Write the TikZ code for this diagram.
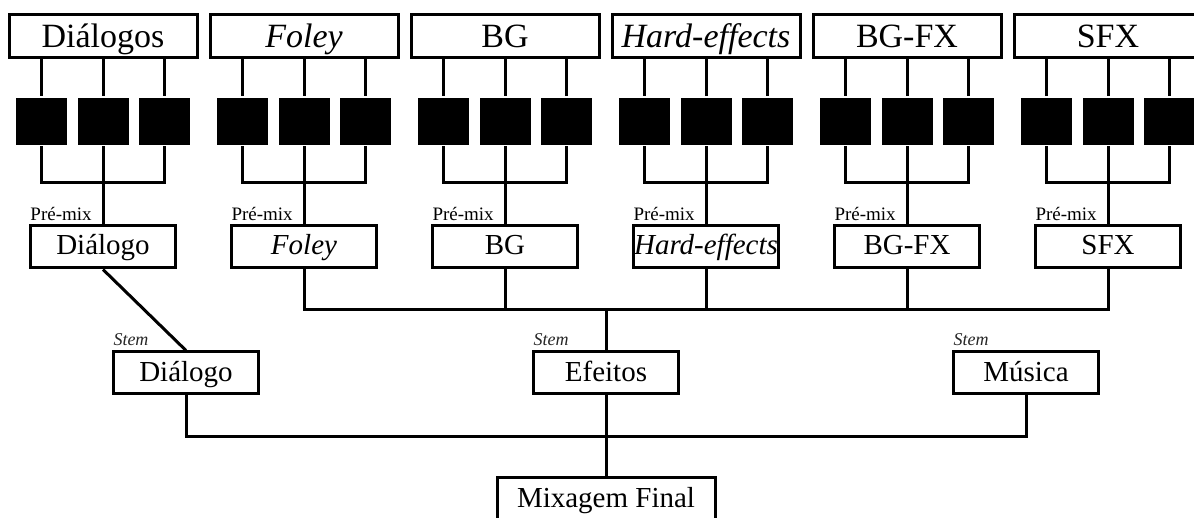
\documentclass[tikz,border=0pt]{standalone}
\usepackage{fontspec}
\setmainfont{Liberation Serif}
\begin{document}
\begin{tikzpicture}[x=1pt,y=-1pt,line width=3pt,line join=miter,
  topbox/.style={draw,line width=3pt,fill=white,minimum width=188pt,minimum height=43pt,inner sep=0pt,text height=24pt,text depth=1pt,font=\fontsize{34}{36}\selectfont},
  sqbox/.style={fill=black,draw=none,minimum width=51pt,minimum height=47pt,inner sep=0pt},
  prebox/.style={draw,line width=3pt,fill=white,minimum width=145pt,minimum height=42pt,inner sep=0pt,text height=18pt,text depth=2pt,font=\fontsize{29}{31}\selectfont},
  stembox/.style={draw,line width=3pt,fill=white,minimum width=145pt,minimum height=42pt,inner sep=0pt,text height=19pt,text depth=1pt,font=\fontsize{29}{31}\selectfont},
  premixlbl/.style={inner sep=0pt,anchor=base west,font=\fontsize{19}{21}\selectfont},
  stemlbl/.style={inner sep=0pt,anchor=base west,font=\fontsize{18}{20}\selectfont\itshape,text=black!85},
  conn/.style={draw,line width=3pt}]
\useasboundingbox (0,0) rectangle (1194,518);
\clip (0,0) rectangle (1194,518);
\foreach \i/\c/\txt/\ptxt in {0/103/Diálogos/Diálogo,1/304/\textit{Foley}/\textit{Foley},2/505/BG/BG,3/706/\textit{Hard-effects}/\textit{Hard-effects},4/907/BG-FX/BG-FX,5/1108/SFX/SFX}{
  \node[topbox] (top\i) at (\c,36.5) {\txt};
  \node[sqbox] (sq\i-1) at (\c-61.5,121.5) {};
  \node[sqbox] (sq\i-2) at (\c,121.5) {};
  \node[sqbox] (sq\i-3) at (\c+61.5,121.5) {};
  \coordinate (bus\i) at (\c,183);
  \node[prebox] (pre\i) at (\c,247) {\ptxt};
  \node[premixlbl,yshift=4pt] (pml\i) at (pre\i.north west) {Pré-mix};
  \foreach \j in {1,2,3}{
    \draw[conn] (top\i.south -| sq\i-\j.north) -- (sq\i-\j.north);
  }
  \draw[conn] (sq\i-1.south) |- (sq\i-3.south |- bus\i) -- (sq\i-3.south);
  \draw[conn] (sq\i-2.south) -- (pre\i.north);
}
\coordinate (ebus) at (606,310);
\coordinate (mbus) at (606,436);
\node[stembox] (sdia) at (186,373) {Diálogo};
\node[stembox] (sefe) at (606,373) {Efeitos};
\node[stembox] (smus) at (1026,373) {Música};
\node[stemlbl,yshift=5pt] (stl1) at (sdia.north west) {Stem};
\node[stemlbl,yshift=5pt] (stl2) at (sefe.north west) {Stem};
\node[stemlbl,yshift=5pt] (stl3) at (smus.north west) {Stem};
\node[draw,line width=3pt,fill=white,minimum width=218pt,minimum height=44pt,inner sep=0pt,text height=18pt,text depth=2pt,font=\fontsize{29}{31}\selectfont] (mix) at (606,499) {Mixagem Final};
\draw[conn] (pre0.south) -- (sdia.north);
\draw[conn] (pre1.south) |- (pre5.south |- ebus) -- (pre5.south);
\foreach \k in {2,3,4}{\draw[conn] (pre\k.south) -- (pre\k.south |- ebus);}
\draw[conn] (ebus) -- (sefe.north);
\draw[conn] (sdia.south) |- (smus.south |- mbus) -- (smus.south);
\draw[conn] (sefe.south) -- (mix.north);
\end{tikzpicture}
\end{document}
